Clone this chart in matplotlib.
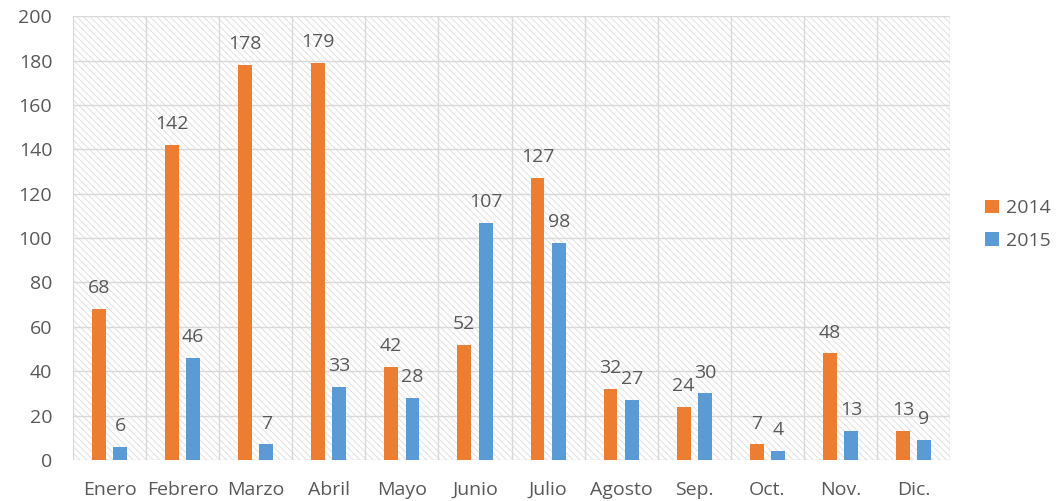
import matplotlib.pyplot as plt
import numpy as np
from matplotlib.patches import Rectangle

months = ["Enero", "Febrero", "Marzo", "Abril", "Mayo", "Junio", "Julio",
          "Agosto", "Sep.", "Oct.", "Nov.", "Dic."]
v2014 = [68, 142, 178, 179, 42, 52, 127, 32, 24, 7, 48, 13]
v2015 = [6, 46, 7, 33, 28, 107, 98, 27, 30, 4, 13, 9]
series_names = ["2014", "2015"]
yticks = [0, 20, 40, 60, 80, 100, 120, 140, 160, 180, 200]

c14 = "#ED7D31"
c15 = "#5B9BD5"
txt = "#595959"
grid = "#d9d9d9"

plt.rcParams['font.family'] = ['Open Sans', 'DejaVu Sans']
plt.rcParams['hatch.color'] = '#dcdcdc'
plt.rcParams['hatch.linewidth'] = 0.6

fig = plt.figure(figsize=(10.63, 5.01), dpi=100)
ax = fig.add_axes([0.0687, 0.0818, 0.825, 0.886])

x = np.arange(len(months))
w = 0.19
off = 0.145
ax.bar(x - off, v2014, w, color=c14, label=series_names[0], zorder=3)
ax.bar(x + off, v2015, w, color=c15, label=series_names[1], zorder=3)

fs = 14
for xi, v in zip(x, v2014):
    ax.annotate(str(v), (xi - off, v), xytext=(0, 8.5), textcoords='offset points',
                ha='center', va='bottom', fontsize=fs, color=txt)
for xi, v in zip(x, v2015):
    ax.annotate(str(v), (xi + off, v), xytext=(0, 8.5), textcoords='offset points',
                ha='center', va='bottom', fontsize=fs, color=txt)

ax.set_xlim(-0.5, len(months) - 0.5)
ax.set_ylim(0, 200)
ax.set_yticks(yticks)
ax.set_xticks(x)
ax.set_xticklabels(months)
ax.tick_params(axis='both', length=0, labelsize=fs, colors=txt)
ax.tick_params(axis='y', pad=15)
ax.tick_params(axis='x', pad=15)

# background hatch
ax.add_patch(Rectangle((0, 0), 1, 1, transform=ax.transAxes, facecolor='white',
                       edgecolor='#dcdcdc', hatch='\\\\\\\\\\', linewidth=0, zorder=0))
for yv in yticks:
    ax.axhline(yv, color=grid, linewidth=1, zorder=1)
for b in np.arange(-0.5, len(months), 1.0):
    ax.axvline(b, color=grid, linewidth=1, zorder=1)
for s in ax.spines.values():
    s.set_visible(False)

ax.legend(loc='center left', bbox_to_anchor=(1.02, 0.53), frameon=False,
          fontsize=fs, labelcolor=txt, handlelength=0.7, handleheight=0.7,
          handletextpad=0.4, labelspacing=0.75)

fig.savefig("out.png", dpi=100)
